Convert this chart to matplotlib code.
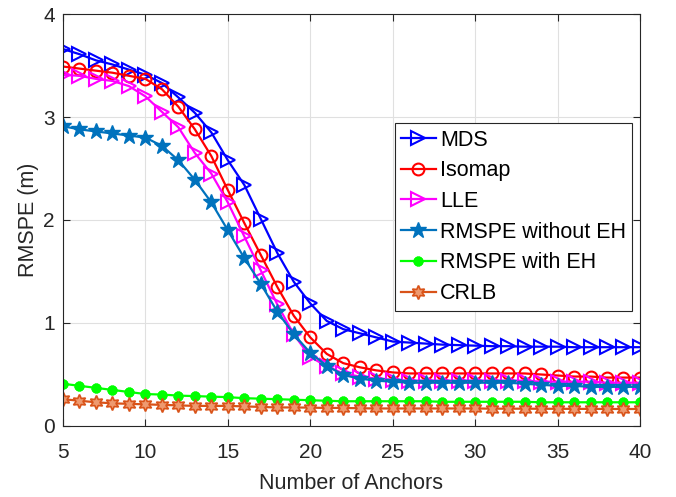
import numpy as np
import matplotlib
matplotlib.use("Agg")
import matplotlib.pyplot as plt

plt.rcParams['font.family'] = ['Liberation Sans', 'DejaVu Sans']

anchors = list(range(5, 41))

mds = [3.66, 3.61, 3.55, 3.51, 3.46, 3.41, 3.33, 3.19, 3.04, 2.85, 2.58, 2.34, 2.01,
       1.68, 1.40, 1.19, 1.02, 0.94, 0.90, 0.86, 0.82, 0.81, 0.80, 0.79, 0.785, 0.78,
       0.775, 0.775, 0.77, 0.77, 0.77, 0.765, 0.765, 0.765, 0.765, 0.765]
isomap = [3.49, 3.47, 3.45, 3.43, 3.40, 3.37, 3.27, 3.10, 2.88, 2.62, 2.29, 1.97, 1.66,
          1.35, 1.07, 0.86, 0.70, 0.61, 0.57, 0.54, 0.52, 0.51, 0.51, 0.51, 0.51, 0.51,
          0.51, 0.51, 0.51, 0.50, 0.49, 0.48, 0.48, 0.47, 0.47, 0.47]
lle = [3.41, 3.40, 3.37, 3.35, 3.30, 3.20, 3.05, 2.90, 2.65, 2.45, 2.17, 1.84, 1.51,
       1.18, 0.89, 0.67, 0.58, 0.51, 0.48, 0.46, 0.45, 0.44, 0.44, 0.44, 0.44, 0.44,
       0.44, 0.44, 0.44, 0.43, 0.43, 0.43, 0.43, 0.42, 0.42, 0.42]
rmspe_wo = [2.91, 2.88, 2.86, 2.84, 2.82, 2.80, 2.72, 2.58, 2.39, 2.17, 1.90, 1.63, 1.38,
            1.11, 0.89, 0.71, 0.585, 0.495, 0.46, 0.44, 0.43, 0.42, 0.42, 0.42, 0.42, 0.42,
            0.42, 0.42, 0.41, 0.40, 0.39, 0.39, 0.38, 0.38, 0.38, 0.38]
rmspe_w = [0.41, 0.39, 0.37, 0.35, 0.33, 0.31, 0.305, 0.295, 0.29, 0.285, 0.28, 0.27, 0.265,
           0.26, 0.255, 0.25, 0.245, 0.24, 0.24, 0.24, 0.24, 0.24, 0.24, 0.235, 0.235, 0.235,
           0.235, 0.235, 0.235, 0.23, 0.23, 0.23, 0.23, 0.23, 0.23, 0.23]
crlb = [0.26, 0.245, 0.23, 0.22, 0.215, 0.21, 0.205, 0.20, 0.195, 0.195, 0.195, 0.19, 0.185,
        0.18, 0.18, 0.178, 0.175, 0.175, 0.172, 0.17, 0.17, 0.17, 0.17, 0.17, 0.17, 0.17,
        0.168, 0.168, 0.168, 0.167, 0.167, 0.166, 0.166, 0.165, 0.165, 0.165]

fig = plt.figure(figsize=(6.76, 4.97), dpi=100)
ax = fig.add_axes([0.0932, 0.1429, 0.8535, 0.8289])

lw = 1.6
ax.plot(anchors, mds, color='#0000FF', marker='>', mfc='none', mec='#0000FF', ms=10, mew=1.5, lw=lw, label='MDS')
ax.plot(anchors, isomap, color='#FF0000', marker='o', mfc='none', mec='#FF0000', ms=8.5, mew=1.5, lw=lw, label='Isomap')
ax.plot(anchors, lle, color='#FF00FF', marker='>', mfc='none', mec='#FF00FF', ms=10, mew=1.5, lw=lw, label='LLE')
ax.plot(anchors, rmspe_wo, color='#0072BD', marker='*', mfc='#0072BD', mec='#0072BD', ms=12, lw=lw, label='RMSPE without EH')
ax.plot(anchors, rmspe_w, color='#00FF00', marker=(8, 2, 0), mfc='#00FF00', mec='#00FF00', ms=7, mew=2.5, lw=lw, label='RMSPE with EH')
ax.plot(anchors, crlb, color='#D95319', marker=(6, 1, 0), mfc='#EE9A70', mec='#D95319', ms=10, mew=1.2, lw=lw, label='CRLB')

ax.set_xlim(5, 40)
ax.set_ylim(0, 4)
ax.set_xticks([5, 10, 15, 20, 25, 30, 35, 40])
ax.set_yticks([0, 1, 2, 3, 4])
ax.grid(True, color='#E0E0E0', lw=0.8)
ax.set_axisbelow(True)
ax.tick_params(direction='in', labelsize=15, colors='#262626', length=5, top=True, right=True,
               labeltop=False, labelright=False)
ax.tick_params(axis='x', pad=12)
ax.tick_params(axis='y', pad=6)
for s in ax.spines.values():
    s.set_color('#262626')
    s.set_linewidth(0.8)
ax.set_xlabel('Number of Anchors', fontsize=15.5, color='#262626', labelpad=8)
ax.set_ylabel('RMSPE (m)', fontsize=15.5, color='#262626', labelpad=3)

leg = ax.legend(loc='upper left', bbox_to_anchor=(0.575, 0.735), fontsize=15.5, frameon=True,
                fancybox=False, edgecolor='#262626', handlelength=1.6, handletextpad=0.2,
                borderpad=0.3, labelspacing=0.45, borderaxespad=0, framealpha=1)
leg.get_frame().set_linewidth(0.8)

fig.savefig('out.png', dpi=100)
